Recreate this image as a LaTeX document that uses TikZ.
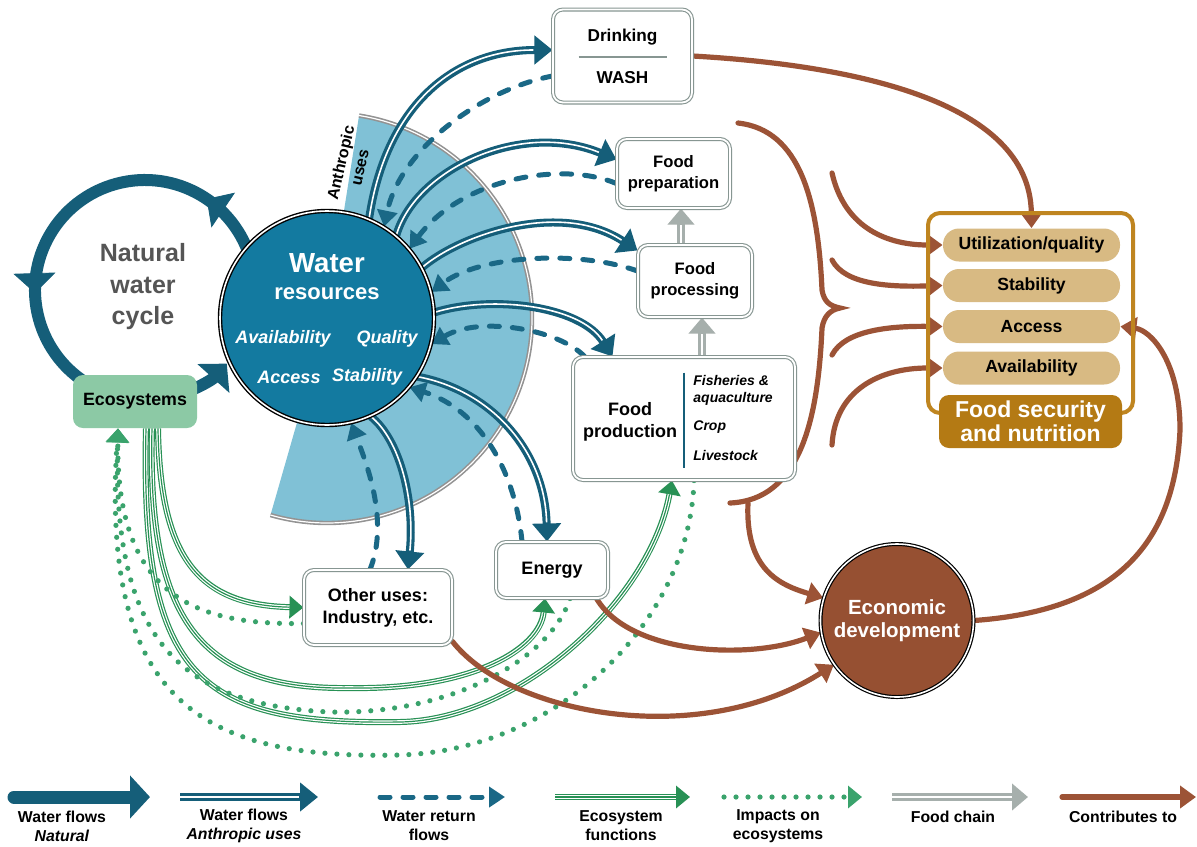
\documentclass[tikz,border=0pt]{standalone}
\usepackage{fontspec}
\setmainfont{Liberation Sans}
\usetikzlibrary{arrows.meta,decorations.markings,calc}
\pgfdeclarelayer{back}
\pgfdeclarelayer{mid}
\pgfsetlayers{back,mid,main}
\definecolor{teal1}{RGB}{21,94,121}
\definecolor{wfill}{RGB}{19,122,160}
\definecolor{sector}{RGB}{128,193,214}
\definecolor{dashc}{RGB}{26,104,134}
\definecolor{greenA}{RGB}{40,145,85}
\definecolor{greenD}{RGB}{58,163,108}
\definecolor{ecofill}{RGB}{140,201,165}
\definecolor{chainc}{RGB}{166,175,172}
\definecolor{boxgray}{RGB}{135,150,146}
\definecolor{brown1}{RGB}{156,83,54}
\definecolor{econfill}{RGB}{150,80,50}
\definecolor{gold}{RGB}{191,133,32}
\definecolor{goldfill}{RGB}{180,122,20}
\definecolor{pillc}{RGB}{216,186,131}
\definecolor{cyclegray}{RGB}{85,85,85}
\newcommand\fz[2]{\fontsize{#1}{#2}\selectfont}
\tikzset{
  box/.style={draw=boxgray, double=white, double distance=0.9pt, line width=0.55pt, rounded corners=5pt, fill=white, inner sep=0pt, align=center, font=\bfseries\fz{8.6}{10.5}},
  pillst/.style={fill=pillc, rounded corners=8pt, minimum width=88.5pt, minimum height=16.5pt, inner sep=0pt, font=\bfseries\fz{8.8}{10}},
  wtxt/.style={text=white, inner sep=0pt},
  natflow/.style={draw=teal1, line width=6pt, -{Triangle[length=10pt,width=21pt]}},
  anthA/.style={draw=teal1, line width=4pt, -{Triangle[length=9pt,width=14pt]}},
  anthB/.style={draw=white, line width=0.8pt, shorten >=9.5pt},
  retflow/.style={draw=dashc, line width=2.5pt, line cap=round, dash pattern=on 5pt off 6.5pt, -{Triangle[length=8pt,width=10pt]}},
  ecoA/.style={draw=greenA, line width=3pt, -{Triangle[length=7pt,width=11pt]}},
  ecoB/.style={draw=white, line width=1.8pt, shorten >=7pt},
  ecoC/.style={draw=greenA, line width=0.6pt, shorten >=7pt},
  impact/.style={draw=greenD, line width=2.6pt, line cap=round, dash pattern=on 0pt off 6pt, -{Triangle[length=7pt,width=11pt]}},
  chainA/.style={draw=chainc, line width=4pt, -{Triangle[length=8pt,width=13pt]}},
  chainB/.style={draw=white, line width=1.2pt, shorten >=8pt},
  contrib/.style={draw=brown1, line width=2.6pt, line cap=round, -{Triangle[length=8pt,width=11pt]}},
  bracest/.style={draw=brown1, line width=2.6pt, line cap=round},
  lg/.style={align=center, inner sep=0pt, font=\bfseries\fz{7.9}{9.6}},
}
\newcommand\anthro[1]{\draw[anthA] #1; \draw[anthB] #1;}
\newcommand\ecof[1]{\draw[ecoA] #1; \draw[ecoB] #1; \draw[ecoC] #1;}
\newcommand\fchain[1]{\draw[chainA] #1; \draw[chainB] #1;}
\begin{document}
\begin{tikzpicture}[x=0.5pt,y=-0.5pt]
\useasboundingbox (0,0) rectangle (1197,846);
\begin{pgfonlayer}{back}
\fill[white] (0,0) rectangle (1197,846);
\coordinate (wc) at (327,318);
\fill[sector] (wc) -- ++(-81:205) arc[start angle=-81, end angle=106, radius=205] -- cycle;
\draw[draw=gray!85, double=white, line width=0.8pt, double distance=0.6pt] (wc) ++(-81:205) arc[start angle=-81, end angle=106, radius=205];
% natural water cycle ring
\coordinate (rc) at (145,290);
\draw[natflow] (rc) ++(-15:110) arc[start angle=-15, end angle=-318, radius=110];
\draw[draw=teal1, fill=teal1, decorate, decoration={markings,
   mark=at position 0.135 with {\arrow{Triangle[length=10pt,width=21pt,color=teal1]}},
   mark=at position 0.55 with {\arrow{Triangle[length=10pt,width=21pt,color=teal1]}}}]
   (rc) ++(-15:110) arc[start angle=-15, end angle=-318, radius=110];
\end{pgfonlayer}

% ---------- nodes ----------
\node[circle, fill=wfill, draw=black, double=white, double distance=0.8pt, line width=0.7pt, minimum size=107pt, inner sep=0pt] (water) at (327,318) {};
\node[wtxt, font=\bfseries\fz{13.8}{15}] (wt1) at (327,263) {Water};
\node[wtxt, font=\bfseries\fz{11}{12}] (wt2) at (327,294) {resources};
\node[wtxt, font=\bfseries\itshape\fz{9}{10}] (wq1) at (283,339) {Availability};
\node[wtxt, font=\bfseries\itshape\fz{9}{10}] (wq2) at (387,339) {Quality};
\node[wtxt, font=\bfseries\itshape\fz{9}{10}] (wq3) at (289,377) {Access};
\node[wtxt, font=\bfseries\itshape\fz{9}{10}] (wq4) at (367,377) {Stability};
\node[rotate=77, align=center, inner sep=0pt, font=\bfseries\fz{8}{9.8}] (anth) at (350,165) {Anthropic\\uses};

\node[text=cyclegray, align=center, inner sep=0pt, font=\bfseries\fz{12.5}{15.75}] (nwc) at (143,287) {Natural\\water\\cycle};
\node[fill=ecofill, rounded corners=5pt, minimum width=62pt, minimum height=26.5pt, inner sep=0pt, font=\bfseries\fz{8.9}{10}] (eco) at (135,401.5) {Ecosystems};

\node[box, minimum width=69.5pt, minimum height=46.5pt, font=\bfseries\fz{8.6}{21}] (drink) at (622.5,56) {Drinking\\WASH};
\draw[boxgray, line width=1.2pt] ($(drink.center)+(-44,1)$) -- ($(drink.center)+(44,1)$);
\node[box, minimum width=56.5pt, minimum height=34.5pt, font=\bfseries\fz{8.3}{10.5}] (prep) at (673.5,173.5) {Food\\preparation};
\node[box, minimum width=57pt, minimum height=36pt, font=\bfseries\fz{8.3}{10.5}] (proc) at (695,281) {Food\\processing};
\node[box, minimum width=111pt, minimum height=61.5pt] (prod) at (684,418.5) {};
\node[align=center, inner sep=0pt, font=\bfseries\fz{9}{11}] (prodL) at (630,422) {Food\\production};
\draw[teal1, line width=1.2pt] ($(prod.center)+(0,-46)$) -- ($(prod.center)+(0,49)$);
\node[anchor=west, align=left, inner sep=0pt, font=\bfseries\itshape\fz{7}{8.5}] (prodR1) at (693,390) {Fisheries \&\\aquaculture};
\node[anchor=west, inner sep=0pt, font=\bfseries\itshape\fz{7}{8.5}] (prodR2) at (693,427) {Crop};
\node[anchor=west, inner sep=0pt, font=\bfseries\itshape\fz{7}{8.5}] (prodR3) at (693,455) {Livestock};
\node[box, minimum width=74pt, minimum height=37.5pt, font=\bfseries\fz{9}{11}] (other) at (378,607.5) {Other uses:\\Industry, etc.};
\node[box, minimum width=56pt, minimum height=28pt, font=\bfseries\fz{9}{11}] (energy) at (552,570) {Energy};

\node[draw=gold, line width=2pt, rounded corners=6pt, minimum width=102.5pt, minimum height=100pt, inner sep=0pt] (fsn) at (1030.5,313) {};
\node[pillst] (util) at (1031.5,245) {Utilization/quality};
\node[pillst] (stab) at (1031.5,285.5) {Stability};
\node[pillst] (acc) at (1031.5,326.5) {Access};
\node[pillst] (avail) at (1031.5,368) {Availability};
\node[fill=goldfill, rounded corners=5pt, minimum width=91.5pt, minimum height=26.5pt, inner sep=0pt, text=white, align=center, font=\bfseries\fz{11.5}{12}] (fsnl) at (1030.5,421.5) {Food security\\and nutrition};

\node[circle, fill=econfill, draw=black, double=white, double distance=0.8pt, line width=0.6pt, minimum size=76.5pt, inner sep=0pt, text=white, align=center, font=\bfseries\fz{10.25}{11.5}] (econ) at (897,620.5) {Economic\\development};

% legend labels
\node[lg] (lg1) at (62,826) {Water flows\\\textit{Natural}};
\node[lg] (lg2) at (244,826) {Water flows\\\textit{Anthropic uses}};
\node[lg] (lg3) at (429,826) {Water return\\flows};
\node[lg] (lg4) at (621,826) {Ecosystem\\functions};
\node[lg] (lg5) at (778,826) {Impacts on\\ecosystems};
\node[lg] (lg6) at (953,817) {Food chain};
\node[lg] (lg7) at (1123,817) {Contributes to};

% ---------- connectors ----------
\begin{pgfonlayer}{mid}
\anthro{(water.67) .. controls (385,110) and (450,50) .. ($(drink.west)+(0,-6)$)}
\draw[retflow] ($(drink.west)+(0,20)$) .. controls (480,90) and (400,150) .. (water.58);
\anthro{(water.50) .. controls (415,170) and (520,120) .. ($(prep.west)+(0,-14)$)}
\draw[retflow] ($(prep.west)+(0,10)$) .. controls (560,160) and (460,180) .. (water.40);
\anthro{(water.28) .. controls (460,235) and (560,200) .. ($(proc.north west)+(0,6)$)}
\draw[retflow] ($(proc.west)+(0,-10)$) .. controls (580,250) and (480,255) .. (water.14);
\anthro{(water.3) .. controls (490,295) and (580,305) .. ($(prod.north west)+(40,0)$)}
\draw[retflow] ($(prod.north west)+(12,0)$) .. controls (560,330) and (480,315) .. (water.-14);
\anthro{(water.-33) .. controls (490,390) and (545,450) .. ($(energy.north)+(-5,0)$)}
\draw[retflow] ($(energy.north)+(-30,0)$) .. controls (515,470) and (480,410) .. (water.-40);
\anthro{(water.-66) .. controls (400,440) and (415,500) .. ($(other.north)+(30,0)$)}
\draw[retflow] ($(other.north)+(-8,0)$) .. controls (390,520) and (365,460) .. (water.-77);

\fchain{($(prod.north)+(18,0)$) -- ($(proc.south)+(7,0)$)}
\fchain{($(proc.north)+(-14,0)$) -- ($(prep.south)+(7.5,0)$)}

\ecof{($(eco.south)+(23,0)$) .. controls (160,560) and (200,605) .. (other.west)}
\ecof{($(eco.south)+(17,0)$) .. controls (147,620) and (200,690) .. (350,688) .. controls (470,690) and (540,650) .. ($(energy.south)+(-7,0)$)}
\ecof{($(eco.south)+(11,0)$) .. controls (140,680) and (200,725) .. (400,722) .. controls (520,720) and (650,600) .. ($(prod.south)+(-12,0)$)}

\draw[impact] ($(other.west)+(0,16)$) .. controls (200,625) and (116,600) .. ($(eco.south)+(-17,0)$);
\draw[impact] ($(energy.south)+(18,0)$) .. controls (550,660) and (450,715) .. (330,712) .. controls (180,705) and (112,640) .. ($(eco.south)+(-17,0)$);
\draw[impact] ($(prod.south)+(10,0)$) .. controls (690,620) and (560,750) .. (400,755) .. controls (200,760) and (100,700) .. ($(eco.south)+(-17,0)$);

\draw[contrib] (drink.east) .. controls (850,65) and (1030,100) .. (util.north);
\draw[bracest] (738,123) .. controls (800,130) and (818,200) .. (822,290) .. controls (824,302) and (830,306) .. (840,308) .. controls (830,310) and (824,316) .. (822,328) .. controls (818,420) and (800,500) .. (730,503);
\coordinate (bb) at (748,503);
\coordinate (b1) at (832,173);
\coordinate (b2) at (832,260);
\coordinate (b3) at (832,355);
\coordinate (b4) at (832,445);
\draw[contrib] (bb) .. controls (745,570) and (780,585) .. (econ.163);
\draw[contrib] (b1) .. controls (845,230) and (890,245) .. (util.west);
\draw[contrib] (b2) .. controls (845,285) and (890,287) .. (stab.west);
\draw[contrib] (b3) .. controls (845,330) and (890,326) .. (acc.west);
\draw[contrib] (b4) .. controls (835,390) and (880,368) .. (avail.west);
\draw[contrib] ($(energy.south east)+(-12,0)$) .. controls (630,655) and (750,660) .. (econ.189);
\draw[contrib] ($(other.south east)+(0,-4)$) .. controls (510,715) and (700,750) .. (econ.215);
\draw[contrib] (econ.east) .. controls (1120,610) and (1175,540) .. (1180,430) .. controls (1180,360) and (1150,330) .. (acc.east);

% legend arrows
\coordinate (l1a) at (14,797); \coordinate (l1b) at (150,797);
\coordinate (l2a) at (180,797); \coordinate (l2b) at (318,797);
\coordinate (l3a) at (380,797); \coordinate (l3b) at (505,797);
\coordinate (l4a) at (555,797); \coordinate (l4b) at (690,797);
\coordinate (l5a) at (724,797); \coordinate (l5b) at (862,797);
\coordinate (l6a) at (892,797); \coordinate (l6b) at (1028,797);
\coordinate (l7a) at (1062,797); \coordinate (l7b) at (1196,797);
\draw[natflow, line cap=round, line width=6.5pt] (l1a) -- (l1b);
\anthro{(l2a) -- (l2b)}
\draw[retflow] (l3a) -- (l3b);
\ecof{(l4a) -- (l4b)}
\draw[impact] (l5a) -- (l5b);
\fchain{(l6a) -- (l6b)}
\draw[contrib] (l7a) -- (l7b);
\end{pgfonlayer}
\end{tikzpicture}
\end{document}
